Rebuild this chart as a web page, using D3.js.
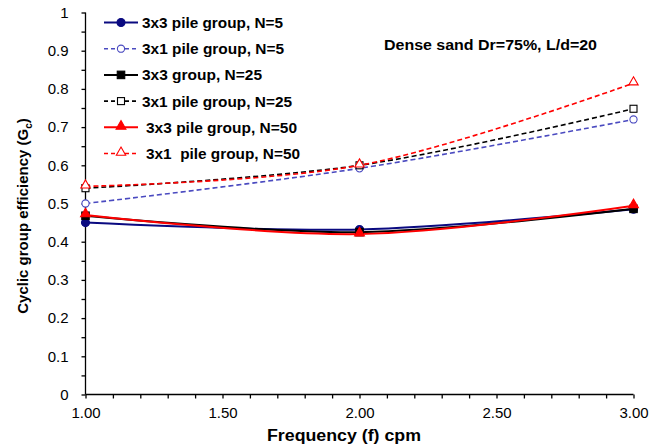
<!DOCTYPE html>
<html lang="en">
<head>
    <meta charset="UTF-8">
    <title>Cyclic group efficiency</title>
    <script src="https://cdn.jsdelivr.net/npm/d3@7/dist/d3.min.js"></script>
    <style>
        body { margin: 0; background: #fff; }
        text { font-family: "Liberation Sans", Arial, sans-serif; fill: #000; }
    </style>
</head>
<body>
<svg id="main-svg" width="669" height="447" xmlns="http://www.w3.org/2000/svg"></svg>

<script>
    'use strict';
    // data
    const frequency = [1.0, 2.0, 3.0];
    const seriesNames = [
        '3x3 pile group, N=5',
        '3x1 pile group, N=5',
        '3x3 group, N=25',
        '3x1 pile group, N=25',
        '3x3 pile group, N=50',
        '3x1  pile group, N=50'
    ];
    const g3x3N5 = [0.45, 0.432, 0.485];
    const g3x1N5 = [0.50, 0.592, 0.72];
    const g3x3N25 = [0.468, 0.425, 0.486];
    const g3x1N25 = [0.54, 0.60, 0.748];
    const g3x3N50 = [0.47, 0.42, 0.494];
    const g3x1N50 = [0.545, 0.60, 0.815];
    const xTickLabels = [1.0, 1.5, 2.0, 2.5, 3.0];
    const yTickLabels = [0, 0.1, 0.2, 0.3, 0.4, 0.5, 0.6, 0.7, 0.8, 0.9, 1];

    // style of each series
    const styles = [
        {values: g3x3N5, color: '#0a0a80', dash: null, shape: 'circle', filled: true},
        {values: g3x1N5, color: '#4a4ac0', dash: '5,3', shape: 'circle', filled: false},
        {values: g3x3N25, color: '#000000', dash: null, shape: 'square', filled: true},
        {values: g3x1N25, color: '#000000', dash: '5,3', shape: 'square', filled: false},
        {values: g3x3N50, color: '#ff0000', dash: null, shape: 'triangle', filled: true},
        {values: g3x1N50, color: '#ff0000', dash: '5,3', shape: 'triangle', filled: false}
    ];
    // legend text layout (start x, width) – the original font is wide
    const legendTextX = [142, 142, 142, 142, 146, 146];
    const legendTextW = [141, 142, 120, 150, 151, 154];

    const svg = d3.select('#main-svg');
    const x = d3.scaleLinear().domain([1, 3]).range([85.5, 633.5]);
    const y = d3.scaleLinear().domain([0, 1]).range([394.5, 12.5]);

    // axes
    const xAxis = d3.axisBottom(x)
        .tickValues(d3.range(10, 31).map(d => d / 10))
        .tickSize(4)
        .tickFormat(d => xTickLabels.some(v => Math.abs(v - d) < 1e-6) ? d3.format('.2f')(d) : '');
    const gx = svg.append('g').attr('transform', 'translate(0,394.5)').call(xAxis);
    gx.selectAll('.tick line').attr('stroke', '#000').attr('stroke-width', 1.3);
    gx.selectAll('.tick text')
        .attr('font-size', 15).attr('y', 9).attr('dy', '0.95em')
        .style('font-family', '"Liberation Sans", Arial, sans-serif');

    const yAxis = d3.axisLeft(y)
        .tickValues(d3.range(0, 21).map(d => d / 20))
        .tickSize(4)
        .tickFormat(d => yTickLabels.some(v => Math.abs(v - d) < 1e-6) ? d3.format('')(d) : '');
    const gy = svg.append('g').attr('transform', 'translate(85.5,0)').call(yAxis);
    gy.selectAll('.tick line').attr('stroke', '#000').attr('stroke-width', 1.3);
    gy.selectAll('.tick text')
        .attr('font-size', 15).attr('x', -17)
        .style('font-family', '"Liberation Sans", Arial, sans-serif');
    // plain axis lines without outer caps
    gx.select('.domain').attr('d', `M${x(1)},0H${x(3)}`).attr('stroke', '#000').attr('stroke-width', 1.3);
    gy.select('.domain').attr('d', `M0,${y(0)}V${y(1)}`).attr('stroke', '#000').attr('stroke-width', 1.3);

    // lines
    const line = d3.line()
        .x((d, i) => x(frequency[i]))
        .y(d => y(d))
        .curve(d3.curveCatmullRom.alpha(0.5));

    function marker(g, shape, color, filled, cx, cy) {
        const fill = filled ? color : '#fff';
        if (shape === 'circle') {
            g.append('circle').attr('cx', cx).attr('cy', cy).attr('r', filled ? 4 : 3.6)
                .attr('fill', fill).attr('stroke', color).attr('stroke-width', 1.1);
        } else if (shape === 'square') {
            const s = filled ? 7.5 : 7;
            g.append('rect').attr('x', cx - s / 2).attr('y', cy - s / 2).attr('width', s).attr('height', s)
                .attr('fill', fill).attr('stroke', color).attr('stroke-width', 1.1);
        } else {
            g.append('path')
                .attr('d', d3.symbol(d3.symbolTriangle, filled ? 42 : 38)())
                .attr('transform', `translate(${cx},${cy - 1})`)
                .attr('fill', fill).attr('stroke', color).attr('stroke-width', 1.1);
        }
    }

    styles.forEach(s => {
        svg.append('path')
            .datum(s.values)
            .attr('d', line)
            .attr('fill', 'none')
            .attr('stroke', s.color)
            .attr('stroke-width', s.dash ? 1.6 : 2)
            .attr('stroke-dasharray', s.dash);
    });
    styles.forEach(s => {
        const g = svg.append('g');
        s.values.forEach((v, i) => marker(g, s.shape, s.color, s.filled, x(frequency[i]), y(v)));
    });

    // legend
    const legend = svg.append('g');
    styles.forEach((s, i) => {
        const ly = 22.5 + i * 26.2;
        legend.append('line')
            .attr('x1', 104).attr('x2', 138).attr('y1', ly).attr('y2', ly)
            .attr('stroke', s.color)
            .attr('stroke-width', s.dash ? 1.6 : 2)
            .attr('stroke-dasharray', s.dash ? '4,3' : null);
        marker(legend, s.shape, s.color, s.filled, 121, ly);
        legend.append('text')
            .attr('x', legendTextX[i]).attr('y', ly + 5.5)
            .attr('font-size', 15).attr('font-weight', 'bold')
            .attr('textLength', legendTextW[i])
            .attr('lengthAdjust', 'spacingAndGlyphs')
            .style('white-space', 'pre')
            .text(seriesNames[i]);
    });

    // annotation
    svg.append('text')
        .attr('x', 384).attr('y', 50)
        .attr('font-size', 14).attr('font-weight', 'bold')
        .attr('textLength', 213)
        .attr('lengthAdjust', 'spacingAndGlyphs')
        .text('Dense sand Dr=75%, L/d=20');

    // axis titles
    svg.append('text')
        .attr('x', 267).attr('y', 441)
        .attr('font-size', 16).attr('font-weight', 'bold')
        .attr('textLength', 154)
        .attr('lengthAdjust', 'spacingAndGlyphs')
        .text('Frequency (f) cpm');

    const yt = svg.append('text')
        .attr('transform', 'translate(28,216) rotate(-90)')
        .attr('text-anchor', 'middle')
        .attr('font-size', 15).attr('font-weight', 'bold');
    yt.append('tspan').text('Cyclic group efficiency (G');
    yt.append('tspan').attr('font-size', 10).attr('dy', 4).text('c');
    yt.append('tspan').attr('dy', -4).text(')');
</script>
</body>
</html>
